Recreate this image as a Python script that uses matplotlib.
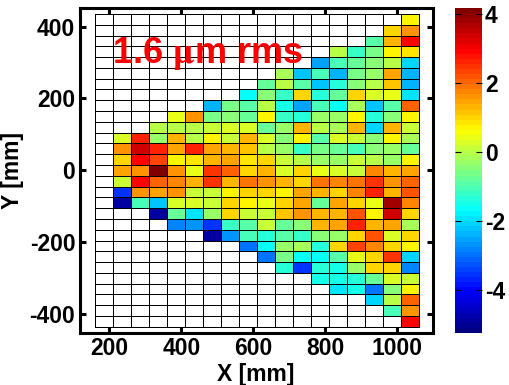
import numpy as np
import matplotlib
matplotlib.use('Agg')
import matplotlib.pyplot as plt
from matplotlib.colors import LinearSegmentedColormap

n = np.nan

# cell edges in mm
x_edges = np.arange(160, 1061, 50)
y_edges = np.arange(435, -436, -30)

# one row per y band, top to bottom, 18 columns
rows = [
    [n, n, n, n, n, n, n, n, n, n, n, n, n, n, n, n, n, 0.65],
    [n, n, n, n, n, n, n, n, n, n, n, n, n, n, n, n, 1.0, 1.6],
    [n, n, n, n, n, n, n, n, n, n, n, n, n, n, n, -0.9, 1.25, 2.95],
    [n, n, n, n, n, n, n, n, n, n, n, n, n, 0.05, -1.15, -0.55, 0.65, 0.85],
    [n, n, n, n, n, n, n, n, n, n, n, n, -2.5, -1.0, -0.7, -0.45, 0.0, -2.1],
    [n, n, n, n, n, n, n, n, n, n, -0.2, -2.25, -1.0, -2.4, -0.6, -0.35, 1.5, -2.35],
    [n, n, n, n, n, n, n, n, n, -0.7, 0.0, -0.9, -2.25, -1.35, -0.5, 0.0, 1.2, -2.35],
    [n, n, n, n, n, n, n, n, -1.6, -0.4, -1.15, 0.95, -1.3, -0.8, 0.95, 0.35, 0.4, -1.95],
    [n, n, n, n, n, n, -2.4, -0.6, -0.85, -0.05, -1.55, -2.5, -1.0, -1.6, -0.15, -2.25, -0.95, 2.05],
    [n, n, n, n, 0.45, 1.6, -0.6, -0.5, -0.7, 0.65, -1.15, -1.4, -0.35, -0.35, 0.65, -1.35, -0.5, 0.65],
    [n, n, n, 0.0, 0.0, 0.05, 0.1, 0.25, 0.35, -0.8, -0.25, 1.25, 0.0, -0.15, 1.25, -2.1, 1.25, 0.1],
    [n, 0.25, 2.6, -0.25, 1.35, 0.0, 0.65, 0.15, 1.25, 0.25, -0.4, 0.65, -0.9, 0.25, 0.2, -0.4, 0.65, -0.2],
    [n, 1.65, 3.4, 2.7, 1.4, 2.7, 1.4, 1.3, 1.15, 0.05, -0.25, -1.15, -0.6, -0.7, -1.0, -0.4, -0.3, -0.75],
    [n, 1.0, 2.95, 2.4, 0.65, 0.9, 1.25, 1.45, 0.85, 1.0, 0.1, 0.0, -0.25, -0.35, 0.1, -0.05, -0.25, 0.65],
    [n, 1.4, 1.65, 4.1, 1.65, 0.45, 2.5, 2.0, 1.0, 1.25, 0.25, 1.0, 0.5, 0.35, 0.2, 1.7, 1.25, 1.5],
    [n, 0.1, 2.95, 2.05, 1.7, 1.25, 2.5, 1.35, 1.95, 1.65, 1.25, 1.05, 1.85, 1.7, 1.95, 2.5, 1.65, 2.05],
    [n, -3.5, 1.65, 1.4, 1.6, 0.1, 0.1, 0.65, 1.05, 1.0, 0.65, 1.45, 1.25, 1.05, 1.7, 2.7, 1.35, 2.2],
    [n, -4.85, -1.0, -2.25, 0.35, 0.3, 0.1, 1.0, 0.65, 0.4, 1.0, 1.45, -0.7, 1.45, 1.0, 0.45, 3.8, 1.7],
    [n, n, n, -4.85, -0.8, -1.9, -0.25, 1.0, 0.1, 0.1, 1.15, 1.65, 1.35, 1.35, 2.2, 0.65, 3.4, 1.0],
    [n, n, n, n, -2.8, -2.7, -3.5, -1.15, -0.9, 0.2, -0.7, -0.4, 1.25, 1.45, 2.7, 1.35, 1.4, -0.15],
    [n, n, n, n, n, n, -4.9, -2.7, -1.0, -1.3, -0.9, -1.15, -0.5, -0.35, 1.0, 2.2, 0.3, 1.0],
    [n, n, n, n, n, n, n, n, -3.0, -1.7, -0.3, -0.1, -1.3, 0.95, 2.4, 1.7, 0.95, 0.65],
    [n, n, n, n, n, n, n, n, n, -3.0, -0.6, -1.7, -1.7, -0.95, 0.45, 0.95, 2.5, -2.1],
    [n, n, n, n, n, n, n, n, n, n, -1.3, -3.6, -1.3, -1.55, -0.3, 1.0, 1.0, -2.85],
    [n, n, n, n, n, n, n, n, n, n, n, n, -1.55, -1.55, -1.35, -0.8, 0.25, 0.2],
    [n, n, n, n, n, n, n, n, n, n, n, n, n, -1.95, -1.55, -2.9, -0.5, 0.65],
    [n, n, n, n, n, n, n, n, n, n, n, n, n, n, n, -2.1, 0.0, 2.0],
    [n, n, n, n, n, n, n, n, n, n, n, n, n, n, n, n, -1.0, 1.6],
    [n, n, n, n, n, n, n, n, n, n, n, n, n, n, n, n, n, 2.95],
]

x_ticks = [200, 400, 600, 800, 1000]
y_ticks = [-400, -200, 0, 200, 400]
c_ticks = [-4, -2, 0, 2, 4]

# matlab style jet, 64 steps
jet = LinearSegmentedColormap.from_list('mjet', [
    (0, (0, 0, 0.5)), (0.125, (0, 0, 1)), (0.375, (0, 1, 1)),
    (0.625, (1, 1, 0)), (0.875, (1, 0, 0)), (1, (0.5, 0, 0))], N=64)
jet.set_bad('white')

plt.rcParams['font.family'] = 'Liberation Sans'
plt.rcParams['font.weight'] = 'bold'
plt.rcParams['mathtext.fontset'] = 'stix'
plt.rcParams['axes.unicode_minus'] = False

W, H = 509, 385
fig = plt.figure(figsize=(W / 100, H / 100), dpi=100)


def box(l, t, r, b):
    return [l / W, 1 - b / H, (r - l) / W, (b - t) / H]


ax = fig.add_axes(box(79.5, 7.5, 432.7, 333.3))
vals = np.ma.masked_invalid(np.array(rows))
mesh = ax.pcolormesh(x_edges, y_edges, vals, cmap=jet, vmin=-5.24, vmax=4.18,
                     edgecolors='black', linewidth=0.6)
ax.set_xlim(117, 1098)
ax.set_ylim(-453, 453)
ax.set_xticks(x_ticks)
ax.set_yticks(y_ticks)
ax.tick_params(direction='in', top=True, right=True, length=4, width=2.2,
               labelsize=16.5, pad=3)
for s in ax.spines.values():
    s.set_linewidth(2.2)
ax.set_axisbelow(False)
ax.set_xlabel('X [mm]', fontsize=16.5, fontweight='bold', labelpad=1.5)
ax.set_ylabel('Y [mm]', fontsize=16.5, fontweight='bold')
ax.yaxis.set_label_coords(-0.157, 0.5)
ax.text(112.5 / W, 1 - 63 / H, r'1.6 $\mathrm{\mu}$m rms', transform=fig.transFigure,
        color='red', fontsize=26, fontweight='bold', ha='left', va='baseline')

cax = fig.add_axes(box(455, 8, 482.3, 333))
cb = fig.colorbar(mesh, cax=cax, ticks=c_ticks)
cb.outline.set_visible(False)
cax.tick_params(direction='in', left=True, right=True, length=4, width=0.8,
                labelsize=16.5, pad=2, color='black')

fig.savefig('out.png', dpi=100)
